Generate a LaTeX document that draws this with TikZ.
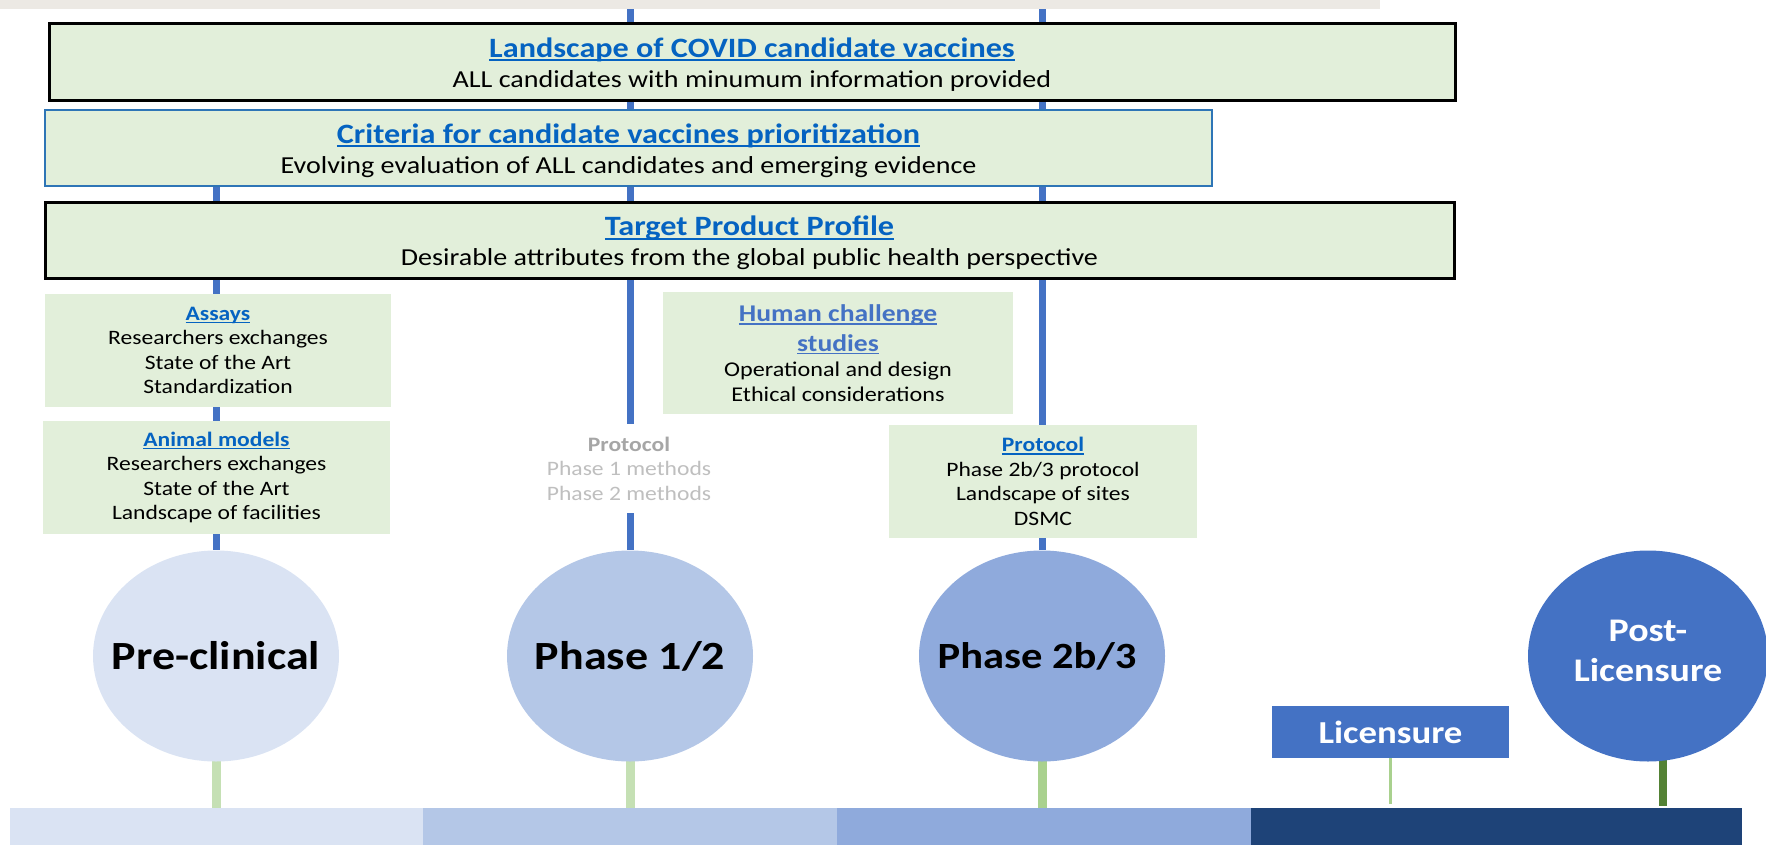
\documentclass[tikz,border=0pt]{standalone}
\usepackage{fontspec}
\setmainfont[FakeStretch=1.15]{Carlito}
\usetikzlibrary{shapes.geometric,backgrounds}

\definecolor{boxgreen}{HTML}{E2EFDA}
\definecolor{linkblue}{HTML}{0563C1}
\definecolor{axisblue}{HTML}{4472C4}
\definecolor{critblue}{HTML}{2E75B6}
\definecolor{paleblue}{HTML}{DAE3F3}
\definecolor{lightblue}{HTML}{B4C7E7}
\definecolor{midblue}{HTML}{8FAADC}
\definecolor{navy}{HTML}{1E4378}
\definecolor{stemlight}{HTML}{C5E0B4}
\definecolor{stemmid}{HTML}{A9D18E}
\definecolor{stemdark}{HTML}{548235}
\definecolor{greytext}{HTML}{A6A6A6}
\definecolor{greylight}{HTML}{BFBFBF}
\definecolor{band}{HTML}{ECE9E4}

\newsavebox{\lnkbox}
\newcommand{\lnk}[1]{\sbox{\lnkbox}{#1}\rlap{\rule[-0.13em]{\wd\lnkbox}{0.07em}}\usebox{\lnkbox}}
\newcommand{\boxtitle}[1]{{\fontsize{28}{30}\selectfont\bfseries\color{linkblue}\lnk{#1}}}
\newcommand{\topictitle}[1]{{\bfseries\color{linkblue}\lnk{#1}}}

\begin{document}
\begin{tikzpicture}[x=1pt,y=-1pt,
    stagebox/.style={draw,line width=3pt,fill=boxgreen,inner sep=0pt},
    stagetext/.style={align=center,yshift=-2.5pt,font=\fontsize{24.4}{30}\selectfont},
    topicbox/.style={fill=boxgreen,inner sep=0pt,align=center,font=\fontsize{20.5}{24.5}\selectfont},
    phase/.style={ellipse,inner sep=0pt,minimum width=246pt,minimum height=211pt},
    phasetext/.style={font=\fontsize{40}{40}\selectfont\bfseries},
    axisline/.style={axisblue,line width=7pt},
    stemline/.style={line width=9pt},
    barpart/.style={inner sep=0pt,minimum height=37pt}]
    \useasboundingbox (0,0) rectangle (1766,845);
    \fill[band] (0,0) rectangle (1380,9);
    \coordinate (top12) at (630,9);
    \coordinate (top23) at (1042,9);

    % framework boxes
    \node[stagebox,minimum width=1406pt,minimum height=77pt,
        label={[stagetext]center:{\boxtitle{Landscape of COVID candidate vaccines}\\ALL candidates with minumum information provided}}] (land) at (752,62.3) {};
    \node[stagebox,draw=critblue,line width=2pt,minimum width=1167pt,minimum height=76pt,
        label={[stagetext]center:{\boxtitle{Criteria for candidate vaccines prioritization}\\Evolving evaluation of ALL candidates and emerging evidence}}] (crit) at (628.5,148) {};
    \node[stagebox,minimum width=1409pt,minimum height=76pt,
        label={[stagetext]center:{\boxtitle{Target Product Profile}\\Desirable attributes from the global public health perspective}}] (tpp) at (749.5,240.7) {};

    % work areas
    \node[topicbox,minimum width=346pt,minimum height=113pt] (assays) at (218,350.5)
        {\topictitle{Assays}\\Researchers exchanges\\State of the Art\\Standardization};
    \node[topicbox,minimum width=347pt,minimum height=113pt] (animal) at (216.5,477.5)
        {\topictitle{Animal models}\\Researchers exchanges\\State of the Art\\Landscape of facilities};
    \node[topicbox,minimum width=350pt,minimum height=122pt,font=\fontsize{21}{24.5}\selectfont] (human) at (838,353)
        {{\fontsize{24}{30}\selectfont\bfseries\color{axisblue}\lnk{Human challenge}}\\[5pt]{\fontsize{24}{30}\selectfont\bfseries\color{axisblue}\lnk{studies}}\\[1pt]Operational and design\\Ethical considerations};
    \node[fill=white,inner xsep=0pt,minimum height=89pt,align=center,text=greylight,font=\fontsize{20.5}{24.5}\selectfont] (prot12) at (629,468.5)
        {\textcolor{greytext}{\textbf{Protocol}}\\Phase 1 methods\\Phase 2 methods};
    \node[topicbox,minimum width=308pt,minimum height=113pt] (prot23) at (1043,481.5)
        {\topictitle{Protocol}\\Phase 2b/3 protocol\\Landscape of sites\\DSMC};

    % stages
    \node[phase,fill=paleblue,label={[phasetext]center:Pre-clinical}] (pre) at (216,656) {};
    \node[phase,fill=lightblue,label={[phasetext]center:Phase 1/2}] (ph12) at (630,656) {};
    \node[phase,fill=midblue,label={[phasetext,xshift=-5pt,font=\fontsize{37}{37}\selectfont\bfseries]center:Phase 2b/3}] (ph23) at (1042,656) {};
    \node[phase,fill=axisblue,minimum width=240pt,label={[text=white,align=center,yshift=5pt,font=\fontsize{33}{40}\selectfont\bfseries]center:Post-\\Licensure}] (post) at (1648,656) {};
    \node[fill=axisblue,text=white,inner sep=0pt,minimum width=237pt,minimum height=52pt,font=\fontsize{32}{32}\selectfont\bfseries] (lic) at (1390.5,732) {Licensure};

    % timeline
    \node[barpart,fill=paleblue,minimum width=413pt] (bar1) at (216.5,826.5) {};
    \node[barpart,fill=lightblue,minimum width=414pt] (bar2) at (630,826.5) {};
    \node[barpart,fill=midblue,minimum width=414pt] (bar3) at (1044,826.5) {};
    \node[barpart,fill=navy,minimum width=491pt] (bar4) at (1496.5,826.5) {};

    \begin{scope}[on background layer]
        \draw[axisline] (crit.south -| pre) -- (pre.north);
        \draw[axisline] (top12) -- (ph12.north);
        \draw[axisline] (top23) -- (ph23.north);
        \draw[stemline,stemlight] (pre.center) -- (pre.center |- bar1.north);
        \draw[stemline,stemlight] (ph12.center) -- (ph12.center |- bar2.north);
        \draw[stemline,stemmid] (ph23.center) -- (ph23.center |- bar3.north);
        \draw[stemmid,line width=2.5pt,shorten >=4pt] (lic.center) -- (lic.center |- bar4.north);
        \draw[stemline,stemdark,line width=8pt,shorten >=2pt] ([xshift=15pt]post.center) -- ([xshift=15pt]post.center |- bar4.north);
    \end{scope}
\end{tikzpicture}
\end{document}
